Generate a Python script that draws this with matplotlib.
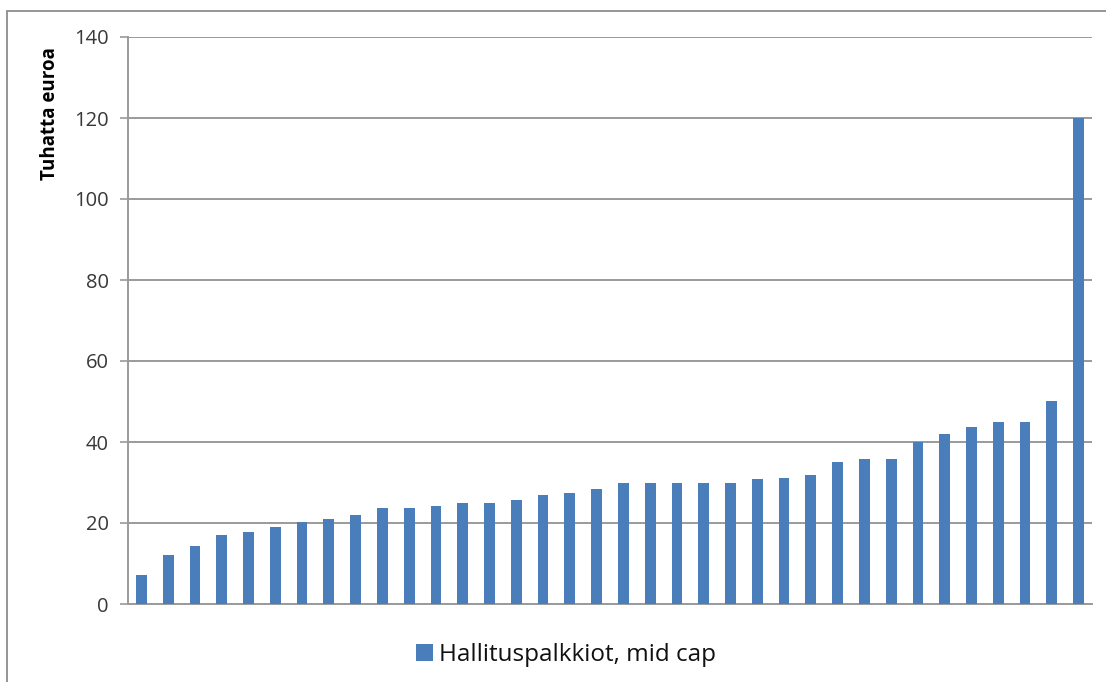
import matplotlib
matplotlib.use("Agg")
import matplotlib.pyplot as plt
from matplotlib.patches import Rectangle

# Board fees per company, thousand euros, sorted ascending
values = [7.2, 12.0, 14.2, 17.0, 17.8, 19.0, 20.2, 21.0, 22.0, 23.8, 23.8, 24.2,
          25.0, 25.0, 25.6, 26.9, 27.5, 28.5, 30.0, 30.0, 30.0, 30.0, 30.0, 30.8,
          31.0, 31.8, 35.0, 35.8, 35.8, 40.0, 42.0, 43.8, 45.0, 45.0, 50.2, 120.0]
series_label = "Hallituspalkkiot, mid cap"
y_label = "Tuhatta euroa"
y_ticks = [0, 20, 40, 60, 80, 100, 120, 140]

bar_color = "#4A7EBB"
grid_color = "#9a9a9a"
text_color = "#383838"

plt.rcParams["font.family"] = ["Open Sans", "DejaVu Sans"]

W, H = 1106, 682
fig = plt.figure(figsize=(W / 100, H / 100), dpi=100)
ax = fig.add_axes([128 / W, 1 - 604 / H, (1092 - 128) / W, (604 - 37) / H])

x = list(range(len(values)))
bars = ax.bar(x, values, width=0.4, color=bar_color, label=series_label, zorder=3)

ax.set_xlim(-0.5, len(values) - 0.5)
ax.set_ylim(0, 140)
ax.set_yticks(y_ticks)
ax.set_xticks([])
ax.yaxis.grid(True, color=grid_color, linewidth=1.4, zorder=0)
ax.tick_params(axis="y", length=6, width=1.2, color=grid_color, labelsize=14.5,
               labelcolor=text_color, pad=8)

for side in ("top", "right"):
    ax.spines[side].set_visible(False)
for side in ("left", "bottom"):
    ax.spines[side].set_color(grid_color)
    ax.spines[side].set_linewidth(1.4)

# Axis title sits near the top of the value axis
fig.text(50 / W, 1 - 114 / H, y_label, rotation=90, ha="center", va="center",
         fontsize=13.5, fontweight="bold", color="#000000")

fig.legend(handles=[bars], labels=[series_label], loc="center",
           bbox_to_anchor=(566 / W, 1 - 655 / H), frameon=False,
           fontsize=17.5, handlelength=0.7, handleheight=0.7, handletextpad=0.25,
           labelcolor="#111111")

# Outer chart frame
fig.patches.append(Rectangle((7 / W, -0.05), 1.1, 1 - 11 / H + 0.05,
                             transform=fig.transFigure, fill=False,
                             edgecolor="#8c8c8c", linewidth=1.3))

fig.savefig("out.png", dpi=100, facecolor="white")
